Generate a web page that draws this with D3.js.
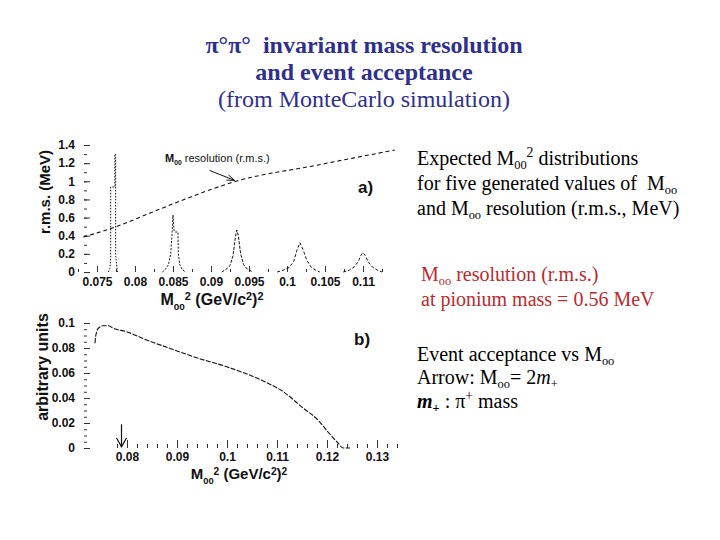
<!DOCTYPE html>
<html><head><meta charset="utf-8">
<script src="https://cdn.jsdelivr.net/npm/d3@7"></script>
<style>body{margin:0;background:#fff}svg{display:block}</style>
</head><body><svg id="c" width="720" height="540"></svg>
<script>
// ---------- data ----------
const titleLines = ["π°π°\u00A0 invariant mass resolution", "and event acceptance", "(from MonteCarlo simulation)"];
const topXTicks = [0.075, 0.08, 0.085, 0.09, 0.095, 0.1, 0.105, 0.11];
const topYTicks = [0, 0.2, 0.4, 0.6, 0.8, 1, 1.2, 1.4];
const botXTicks = [0.08, 0.09, 0.1, 0.11, 0.12, 0.13];
const botYTicks = [0, 0.02, 0.04, 0.06, 0.08, 0.1];

// resolution (r.m.s., MeV) vs M00^2
const resM2  = [0.0732, 0.0774, 0.0820, 0.0863, 0.0934, 0.1034, 0.1142];
const resRms = [0.386, 0.496, 0.650, 0.794, 1.003, 1.169, 1.345];

// expected M00^2 distributions for five generated values
const peak1X = [0.0765, 0.0767, 0.0768, 0.0768, 0.07735, 0.07735, 0.07745, 0.07745, 0.0776, 0.0777];
const peak1Y = [0, 0.04, 0.15, 0.937, 0.937, 1.30, 1.30, 0.19, 0.06, 0];
const peak2X = [0.0836, 0.0840, 0.0844, 0.0847, 0.0849, 0.0850, 0.08515, 0.0853, 0.08565, 0.0857, 0.0859, 0.0862, 0.0866];
const peak2Y = [0, 0.03, 0.08, 0.20, 0.45, 0.628, 0.45, 0.441, 0.441, 0.20, 0.08, 0.03, 0];
const peak3X = [0.0914, 0.0920, 0.0925, 0.0929, 0.0932, 0.0934, 0.0936, 0.0939, 0.0943, 0.0948, 0.0955];
const peak3Y = [0, 0.03, 0.07, 0.18, 0.38, 0.463, 0.40, 0.20, 0.08, 0.03, 0];
const peak4X = [0.0987, 0.0995, 0.1003, 0.1009, 0.1013, 0.1017, 0.1021, 0.1026, 0.1032, 0.1038, 0.1043];
const peak4Y = [0, 0.02, 0.05, 0.12, 0.24, 0.323, 0.25, 0.13, 0.05, 0.02, 0];
const peak5X = [0.1074, 0.1082, 0.1089, 0.1094, 0.1097, 0.1100, 0.1103, 0.1107, 0.1113, 0.1119, 0.1125];
const peak5Y = [0, 0.02, 0.06, 0.12, 0.18, 0.213, 0.18, 0.11, 0.05, 0.02, 0];

// event acceptance (arbitrary units) vs M00^2
const accM2  = [0.0736, 0.07374, 0.07426, 0.07526, 0.07626, 0.07726, 0.07994, 0.08394, 0.08794, 0.09426, 0.09994, 0.10726, 0.11126, 0.11526, 0.1182, 0.1202, 0.1222, 0.1232, 0.1246];
const accVal = [0.0838, 0.0896, 0.0958, 0.0978, 0.0978, 0.0958, 0.0930, 0.0864, 0.0806, 0.0718, 0.0650, 0.0536, 0.0450, 0.0318, 0.0224, 0.0128, 0.0040, 0, 0];
const arrowM2 = 0.0789; // M00 = 2 m+

// ---------- drawing ----------
const svg = d3.select("#c");
const SANS = "'Liberation Sans', Arial, sans-serif";
const SERIF = "'Liberation Serif', 'Times New Roman', serif";

// title
const titleY = [53, 80, 107];
titleLines.forEach((t, i) => {
  svg.append("text").attr("x", 364).attr("y", titleY[i]).attr("text-anchor", "middle")
    .attr("font-family", SERIF).attr("font-size", 24)
    .attr("font-weight", i < 2 ? "bold" : "normal")
    .attr("fill", "#2f2f8f").text(t);
});

// scales
const xTop = d3.scaleLinear().domain([0.075, 0.11]).range([97, 363]);
const yTop = d3.scaleLinear().domain([0, 1.4]).range([272, 145]);
const xBot = d3.scaleLinear().domain([0.08, 0.13]).range([127, 377]);
const yBot = d3.scaleLinear().domain([0, 0.1]).range([448, 323]);

function styleAxis(g) {
  g.select(".domain").remove();
  g.selectAll("line").attr("stroke", "#333");
  g.selectAll("text").attr("font-family", SANS).attr("font-weight", "bold")
    .attr("font-size", 12).attr("fill", "#111");
}
const fmt = d3.format("");

// ---- top panel axes
const minorTopX = d3.range(0.0725, 0.1126, 0.0025);
svg.append("g").attr("transform", `translate(0,${yTop(0)})`)
  .call(d3.axisBottom(xTop).tickValues(minorTopX).tickFormat("").tickSizeInner(-3).tickSizeOuter(0)).call(styleAxis);
svg.append("g").attr("transform", `translate(0,${yTop(0)})`)
  .call(d3.axisBottom(xTop).tickValues(topXTicks).tickFormat(fmt).tickSizeInner(-6).tickSizeOuter(0).tickPadding(5)).call(styleAxis);
svg.append("g").attr("transform", `translate(84,0)`)
  .call(d3.axisLeft(yTop).tickValues(d3.range(0, 1.41, 0.1)).tickFormat("").tickSizeInner(-3).tickSizeOuter(0)).call(styleAxis);
svg.append("g").attr("transform", `translate(84,0)`)
  .call(d3.axisLeft(yTop).tickValues(topYTicks).tickFormat(fmt).tickSizeInner(-6).tickSizeOuter(0).tickPadding(9)).call(styleAxis);

// ---- bottom panel axes
svg.append("g").attr("transform", `translate(0,${yBot(0)})`)
  .call(d3.axisBottom(xBot).tickValues(d3.range(0.078, 0.1341, 0.002)).tickFormat("").tickSizeInner(-4).tickSizeOuter(0)).call(styleAxis);
svg.append("g").attr("transform", `translate(0,${yBot(0)})`)
  .call(d3.axisBottom(xBot).tickValues(botXTicks).tickFormat(fmt).tickSizeInner(-8).tickSizeOuter(0).tickPadding(4)).call(styleAxis);
svg.append("g").attr("transform", `translate(84,0)`)
  .call(d3.axisLeft(yBot).tickValues(d3.range(0, 0.1001, 0.005)).tickFormat("").tickSizeInner(-3).tickSizeOuter(0)).call(styleAxis);
svg.append("g").attr("transform", `translate(84,0)`)
  .call(d3.axisLeft(yBot).tickValues(botYTicks).tickFormat(fmt).tickSizeInner(-6).tickSizeOuter(0).tickPadding(9)).call(styleAxis);

// ---- rich text helper
function rich(sel, segs, fs, supK, subK) {
  let shift = 0;
  const up = supK || 0.4, down = subK || 0.3;
  segs.forEach(s => {
    const ts = sel.append("tspan").text(s.t);
    let target = 0, size = fs;
    if (s.sub) { target = fs * down; size = fs * 0.62; }
    if (s.sup) { target = -fs * up; size = fs * 0.68; }
    ts.attr("dy", target - shift).attr("font-size", size);
    if (s.i) ts.attr("font-style", "italic");
    if (s.b) ts.attr("font-weight", "bold");
    shift = target;
  });
}

// axis titles
const xt1 = svg.append("text").attr("x", 212).attr("y", 305).attr("text-anchor", "middle")
  .attr("font-family", SANS).attr("font-weight", "bold").attr("font-size", 16).attr("fill", "#111");
rich(xt1, [{t:"M"},{t:"00",sub:1},{t:"2",sup:1},{t:" (GeV/c"},{t:"2",sup:1},{t:")"},{t:"2",sup:1}], 16, 0.33);
const xt2 = svg.append("text").attr("x", 239).attr("y", 479).attr("text-anchor", "middle")
  .attr("font-family", SANS).attr("font-weight", "bold").attr("font-size", 15).attr("fill", "#111");
rich(xt2, [{t:"M"},{t:"00",sub:1},{t:"2",sup:1},{t:" (GeV/c"},{t:"2",sup:1},{t:")"},{t:"2",sup:1}], 15, 0.3);

svg.append("text").attr("transform", "translate(50,192) rotate(-90)").attr("text-anchor", "middle")
  .attr("font-family", SANS).attr("font-weight", "bold").attr("font-size", 15).attr("fill", "#111")
  .text("r.m.s. (MeV)");
svg.append("text").attr("transform", "translate(48,367) rotate(-90)").attr("text-anchor", "middle")
  .attr("font-family", SANS).attr("font-weight", "bold").attr("font-size", 16).attr("fill", "#111")
  .text("arbitrary units");

// panel labels
svg.append("text").attr("x", 358).attr("y", 193).attr("font-family", SANS).attr("font-size", 17)
  .attr("font-weight", "bold").attr("fill", "#111").text("a)");
svg.append("text").attr("x", 354).attr("y", 345).attr("font-family", SANS).attr("font-size", 17)
  .attr("font-weight", "bold").attr("fill", "#111").text("b)");

// ---- top panel marks
const lineTop = d3.line().x(d => xTop(d[0])).y(d => yTop(d[1]));
svg.append("path").datum(d3.zip(resM2, resRms)).attr("d", lineTop.curve(d3.curveMonotoneX))
  .attr("fill", "none").attr("stroke", "#111").attr("stroke-width", 1.1).attr("stroke-dasharray", "4,3");
const lineTopL = d3.line().x(d => xTop(d[0])).y(d => yTop(d[1]));
[[peak1X, peak1Y, "1.5,1.5"], [peak2X, peak2Y, "2,1.5"], [peak3X, peak3Y, "3,1.5"],
 [peak4X, peak4Y, "3,2"], [peak5X, peak5Y, "3,2"]].forEach(([px, py, da]) => {
  svg.append("path").datum(d3.zip(px, py)).attr("d", lineTopL)
    .attr("fill", "none").attr("stroke", "#111").attr("stroke-width", 1).attr("stroke-dasharray", da);
});

// annotation
const ann = svg.append("text").attr("x", 165).attr("y", 162).attr("font-family", SANS)
  .attr("font-size", 11).attr("fill", "#111");
rich(ann, [{t:"M", b:1},{t:"00",sub:1,b:1},{t:" resolution (r.m.s.)"}], 11);
const ax0 = xTop(0.0898), ay0 = yTop(1.12), ax1 = xTop(0.0931), ay1 = yTop(1.01);
svg.append("line").attr("x1", ax0).attr("y1", ay0).attr("x2", ax1).attr("y2", ay1)
  .attr("stroke", "#111").attr("stroke-width", 1);
const ang = Math.atan2(ay1 - ay0, ax1 - ax0);
svg.append("path").attr("d", `M${ax1 - 8*Math.cos(ang - 0.35)},${ay1 - 8*Math.sin(ang - 0.35)}L${ax1},${ay1}L${ax1 - 8*Math.cos(ang + 0.35)},${ay1 - 8*Math.sin(ang + 0.35)}`)
  .attr("fill", "none").attr("stroke", "#111").attr("stroke-width", 1);

// ---- bottom panel marks
const lineBot = d3.line().x(d => xBot(d[0])).y(d => yBot(d[1])).curve(d3.curveMonotoneX);
svg.append("path").datum(d3.zip(accM2, accVal)).attr("d", lineBot)
  .attr("fill", "none").attr("stroke", "#111").attr("stroke-width", 1.1).attr("stroke-dasharray", "5,1.5");
const axA = xBot(arrowM2);
svg.append("line").attr("x1", axA).attr("x2", axA).attr("y1", yBot(0.019)).attr("y2", yBot(0.001))
  .attr("stroke", "#111").attr("stroke-width", 1.2);
svg.append("path").attr("d", `M${axA-5},${yBot(0.008)}L${axA},${yBot(0.001)}L${axA+5},${yBot(0.008)}`)
  .attr("fill", "none").attr("stroke", "#111").attr("stroke-width", 1.2);

// ---- right-hand text
const rightLines = [
  {y: 165, c: "#000", segs: [{t:"Expected M"},{t:"00",sub:1},{t:"2",sup:1},{t:" distributions"}]},
  {y: 190, c: "#000", segs: [{t:"for five generated values of \u00A0M"},{t:"oo",sub:1}]},
  {y: 215, c: "#000", segs: [{t:"and M"},{t:"oo",sub:1},{t:" resolution (r.m.s., MeV)"}]},
  {y: 281, c: "#c0282d", x: 421, segs: [{t:"M"},{t:"oo",sub:1},{t:" resolution (r.m.s.)"}]},
  {y: 306, c: "#c0282d", x: 421, segs: [{t:"at pionium mass = 0.56 MeV"}]},
  {y: 361, c: "#000", segs: [{t:"Event acceptance vs M"},{t:"oo",sub:1}]},
  {y: 384, c: "#000", segs: [{t:"Arrow: M"},{t:"oo",sub:1},{t:"= 2"},{t:"m",i:1},{t:"+",sub:1}]},
  {y: 408, c: "#000", segs: [{t:"m",i:1,b:1},{t:"+",sub:1,b:1},{t:" : π"},{t:"+",sup:1},{t:" mass"}]}
];
rightLines.forEach(l => {
  const t = svg.append("text").attr("x", l.x || 417).attr("y", l.y).attr("font-family", SERIF)
    .attr("font-size", 20).attr("fill", l.c);
  rich(t, l.segs, 20, 0.4, 0.18);
});
</script></body></html>
